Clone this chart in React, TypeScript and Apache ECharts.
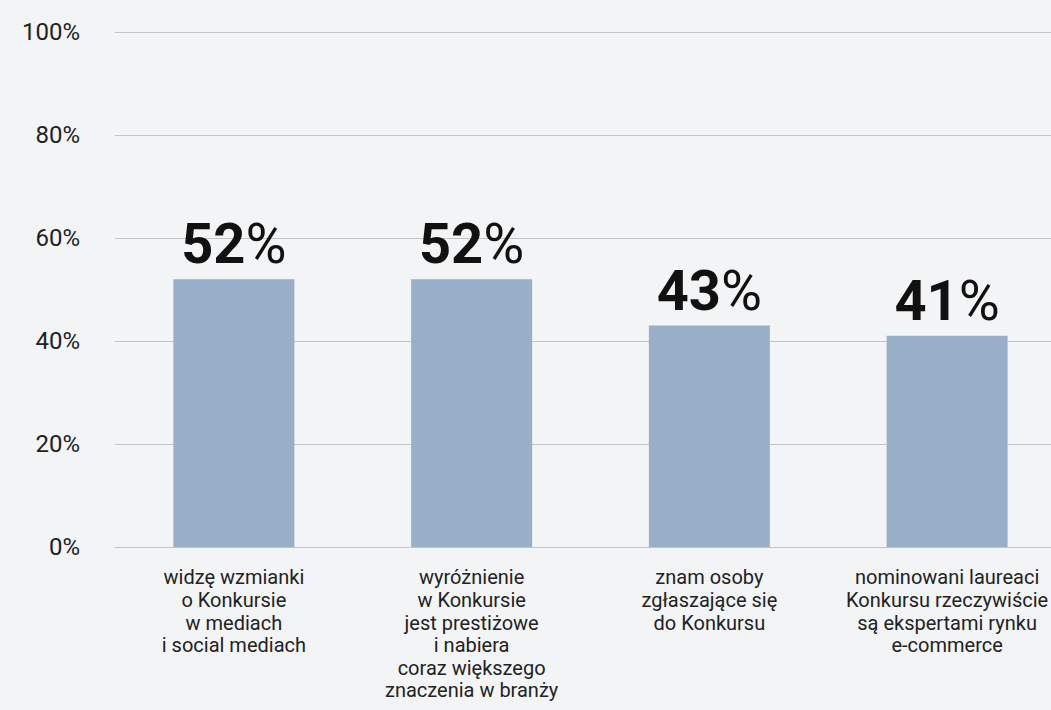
import React, { useEffect, useRef } from "react";
import * as echarts from "echarts";

const categories = [
  "widzę wzmianki\no Konkursie\nw mediach\ni social mediach",
  "wyróżnienie\nw Konkursie\njest prestiżowe\ni nabiera\ncoraz większego\nznaczenia w branży",
  "znam osoby\nzgłaszające się\ndo Konkursu",
  "nominowani laureaci\nKonkursu rzeczywiście\nsą ekspertami rynku\ne-commerce",
];
const values = [52, 52, 43, 41];
const yTicks = [0, 20, 40, 60, 80, 100];

export default function App() {
  const ref = useRef<HTMLDivElement>(null);
  useEffect(() => {
    if (!ref.current) return;
    const chart = echarts.init(ref.current, null, { renderer: "svg" });
    chart.setOption({
      animation: false,
      backgroundColor: "#f3f4f6",
      textStyle: { fontFamily: "Roboto" },
      grid: { left: 115, top: 32, bottom: 163, right: 0, containLabel: false },
      xAxis: {
        type: "category",
        data: categories,
        axisLine: { show: true, lineStyle: { color: "#c4c4c4", width: 1 } },
        axisTick: { show: false },
        axisLabel: {
          interval: 0,
          color: "#222",
          fontSize: 20,
          lineHeight: 22.6,
          margin: 19,
          fontFamily: "Roboto",
        },
      },
      yAxis: {
        type: "value",
        min: 0,
        max: 100,
        interval: 20,
        axisLine: { show: false },
        axisTick: { show: false },
        splitLine: { lineStyle: { color: "#c4c4c4", width: 1 } },
        axisLabel: {
          color: "#222",
          fontSize: 24,
          margin: 35,
          fontFamily: "Roboto",
          formatter: (v: number) => (yTicks.includes(v) ? v + "%" : ""),
        },
      },
      series: [
        {
          type: "bar",
          data: values,
          barWidth: 121,
          itemStyle: { color: "#98afc7" },
          label: {
            show: true,
            position: "top",
            distance: 7,
            formatter: (p: any) => `{n|${p.value}}{p|%}`,
            rich: {
              n: { fontSize: 56, fontWeight: "bold", color: "#111", fontFamily: "Roboto" },
              p: { fontSize: 56, fontWeight: "normal", color: "#111", fontFamily: "Roboto" },
            },
          },
        },
      ],
    });
    return () => chart.dispose();
  }, []);
  return (
    <div
      style={{
        position: "fixed",
        left: 0,
        top: 0,
        width: 1051,
        height: 710,
        overflow: "hidden",
        background: "#f3f4f6",
      }}
    >
      <div ref={ref} style={{ width: 1066, height: 710 }} />
    </div>
  );
}
